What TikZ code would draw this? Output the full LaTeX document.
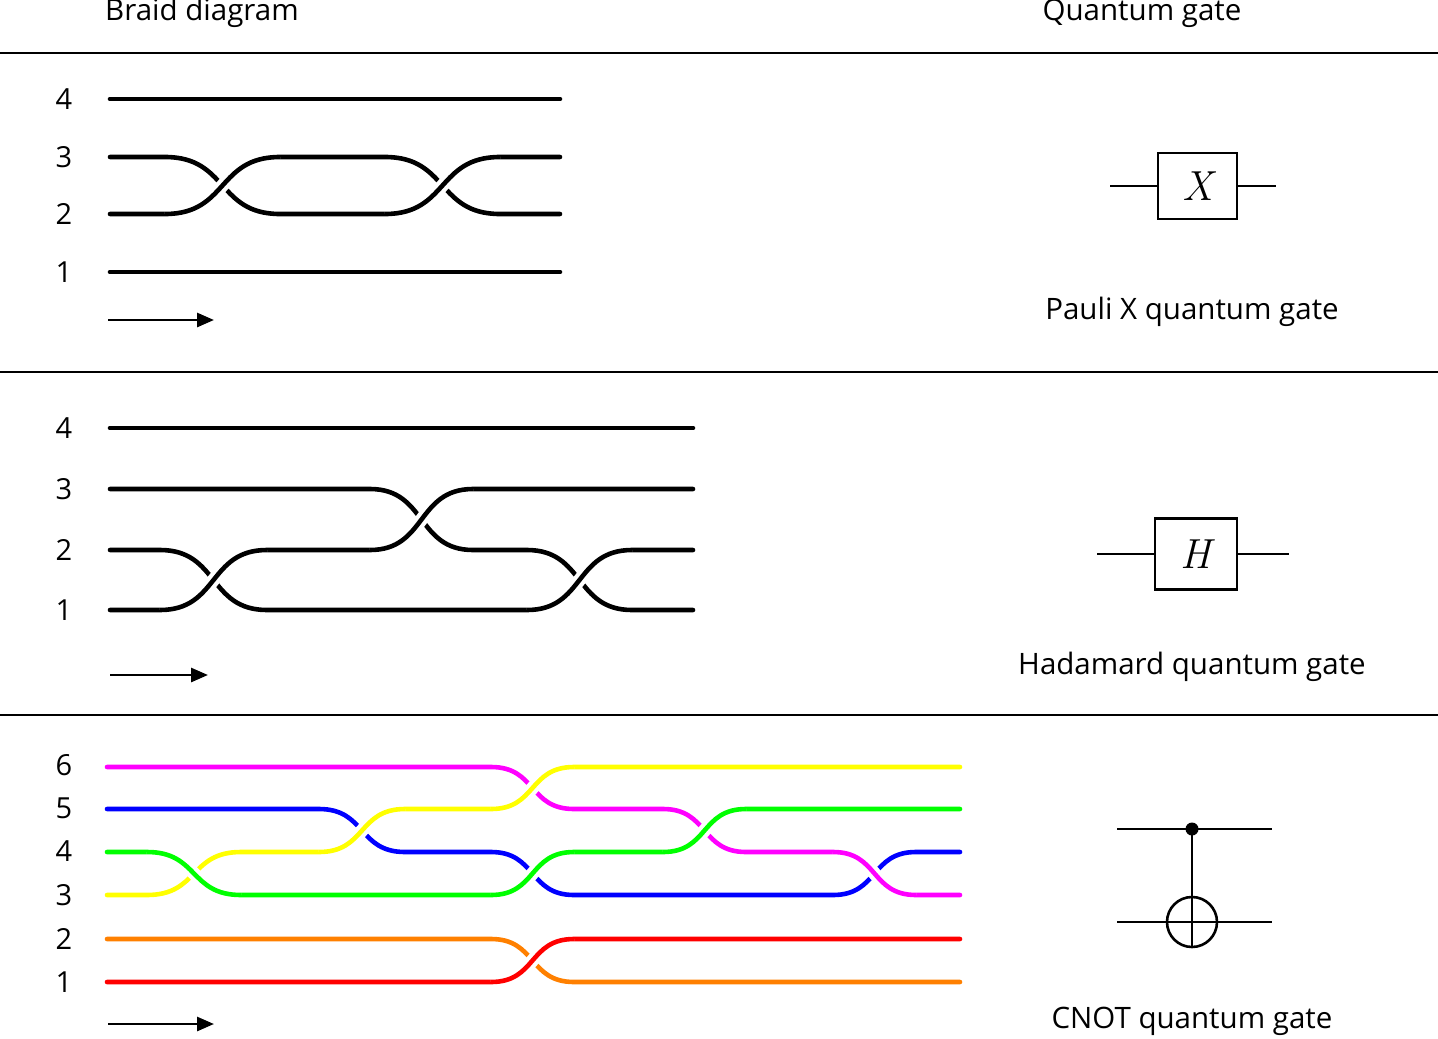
\documentclass[tikz,border=0pt]{standalone}
\usepackage{fontspec}
\setmainfont{Open Sans}
\newfontfamily\lmfont{Latin Modern Roman}
\usetikzlibrary{arrows.meta}
\definecolor{cmag}{RGB}{255,0,255}
\definecolor{cblu}{RGB}{0,0,255}
\definecolor{cgrn}{RGB}{0,255,0}
\definecolor{cyel}{RGB}{255,255,0}
\definecolor{corg}{RGB}{255,128,0}
\definecolor{cred}{RGB}{255,0,0}
\newcommand{\cv}[4]{(#1,#3) .. controls ({#1+0.55*(#2-#1)},#3) and ({#2-0.55*(#2-#1)},#4) .. (#2,#4)}
\tikzset{
  strand/.style={line width=4.6pt,line cap=round},
  over/.style={line width=4.6pt,preaction={draw=white,line width=13pt}},
  lbl/.style={font=\fontsize{29.5}{32}\selectfont},
  num/.style={font=\fontsize{29}{32}\selectfont},
  sep/.style={line width=1.2pt},
  arr/.style={line width=2.8pt,-{Triangle[length=17pt,width=14pt]}},
  gatebox/.style={draw,line width=2.4pt,font=\lmfont\fontsize{42}{44}\selectfont\itshape},
  wire/.style={line width=2.6pt}
}
\begin{document}
\begin{tikzpicture}[x=1pt,y=-1pt]
\useasboundingbox (0,0) rectangle (1438,1039);
% header
\node[lbl] (h1) at (202,13) {Braid diagram};
\node[lbl] (h2) at (1142,13) {Quantum gate};
\draw[sep] (0,53) -- (1438,53);
\draw[sep] (0,372) -- (1438,372);
\draw[sep] (0,715) -- (1438,715);
% ---------- panel 1
\foreach \n/\y in {4/99,3/157,2/214,1/272} \node[num] (p1n\n) at (64,\y) {\n};
\draw[strand] (110,99) -- (560,99);
\draw[strand] (110,272) -- (560,272);
\draw[strand] (110,157) -- (165,157) -- \cv{165}{280}{157}{214} -- (385,214) -- \cv{385}{500}{214}{157} -- (560,157);
\draw[strand] (110,214) -- (165,214) -- \cv{165}{280}{214}{157} -- (385,157) -- \cv{385}{500}{157}{214} -- (560,214);
\draw[over] \cv{165}{280}{214}{157};
\draw[over] \cv{385}{500}{214}{157};
\coordinate (a1s) at (108,320); \coordinate (a1e) at (214,320);
\draw[arr] (a1s) -- (a1e);
% ---------- panel 2
\foreach \n/\y in {4/428,3/489,2/550,1/610} \node[num] (p2n\n) at (64,\y) {\n};
\draw[strand] (110,428) -- (693,428);
\draw[strand] (110,550) -- (160,550) -- \cv{160}{267}{550}{610} -- (527,610) -- \cv{527}{632}{610}{550} -- (693,550);
\draw[strand] (110,610) -- (160,610) -- \cv{160}{267}{610}{550} -- (370,550) -- \cv{370}{473}{550}{489} -- (693,489);
\draw[strand] (110,489) -- (370,489) -- \cv{370}{473}{489}{550} -- (527,550) -- \cv{527}{632}{550}{610} -- (693,610);
\draw[over] \cv{160}{267}{610}{550};
\draw[over] \cv{370}{473}{550}{489};
\draw[over] \cv{527}{632}{610}{550};
\coordinate (a2s) at (110,675); \coordinate (a2e) at (208,675);
\draw[arr] (a2s) -- (a2e);
% ---------- panel 3
\foreach \n/\y in {6/765,5/808,4/851,3/895,2/939,1/982} \node[num] (p3n\n) at (64,\y) {\n};
\draw[strand,cmag] (107,767) -- (491,767) -- \cv{491}{574}{767}{809} -- (663,809) -- \cv{663}{746}{809}{852} -- (833,852) -- \cv{833}{916}{852}{895} -- (960,895);
\draw[strand,cblu] (107,809) -- (319,809) -- \cv{319}{405}{809}{852} -- (491,852) -- \cv{491}{574}{852}{895} -- (833,895) -- \cv{833}{916}{895}{852} -- (960,852);
\draw[strand,cgrn] (107,852) -- (147,852) -- \cv{147}{241}{852}{895} -- (491,895) -- \cv{491}{574}{895}{852} -- (663,852) -- \cv{663}{746}{852}{809} -- (960,809);
\draw[strand,cyel] (107,895) -- (147,895) -- \cv{147}{241}{895}{852} -- (319,852) -- \cv{319}{405}{852}{809} -- (491,809) -- \cv{491}{574}{809}{767} -- (960,767);
\draw[strand,corg] (107,939) -- (491,939) -- \cv{491}{574}{939}{982} -- (960,982);
\draw[strand,cred] (107,982) -- (491,982) -- \cv{491}{574}{982}{939} -- (960,939);
\draw[over,cgrn] \cv{147}{241}{852}{895};
\draw[over,cyel] \cv{319}{405}{852}{809};
\draw[over,cyel] \cv{491}{574}{809}{767};
\draw[over,cgrn] \cv{491}{574}{895}{852};
\draw[over,cred] \cv{491}{574}{982}{939};
\draw[over,cgrn] \cv{663}{746}{852}{809};
\draw[over,cmag] \cv{833}{916}{852}{895};
\coordinate (a3s) at (108,1024); \coordinate (a3e) at (214,1024);
\draw[arr] (a3s) -- (a3e);
% ---------- gates
\node[gatebox,minimum width=79pt,minimum height=66pt] (gx) at (1197.5,186) {X};
\coordinate (gxl) at (1110,186); \coordinate (gxr) at (1276,186);
\draw[wire] (gxl) -- (gx.west); \draw[wire] (gx.east) -- (gxr);
\node[lbl] (tx) at (1192,312) {Pauli X quantum gate};
\node[gatebox,minimum width=82pt,minimum height=71pt] (gh) at (1196,554) {H};
\coordinate (ghl) at (1097,554); \coordinate (ghr) at (1289,554);
\draw[wire] (ghl) -- (gh.west); \draw[wire] (gh.east) -- (ghr);
\node[lbl] (th) at (1192,667) {Hadamard quantum gate};
\coordinate (c1l) at (1117,829); \coordinate (c1r) at (1272,829);
\coordinate (c2l) at (1117,922); \coordinate (c2r) at (1272,922);
\draw[wire] (c1l) -- (c1r);
\draw[wire] (c2l) -- (c2r);
\node[circle,fill,inner sep=0pt,minimum size=13pt] (ctl) at (1192,829) {};
\node[circle,draw,line width=2.6pt,inner sep=0pt,minimum size=50pt] (tgt) at (1192,922) {};
\draw[wire] (ctl.center) -- (tgt.south);
\node[lbl] (tc) at (1192,1021) {CNOT quantum gate};
\end{tikzpicture}
\end{document}
